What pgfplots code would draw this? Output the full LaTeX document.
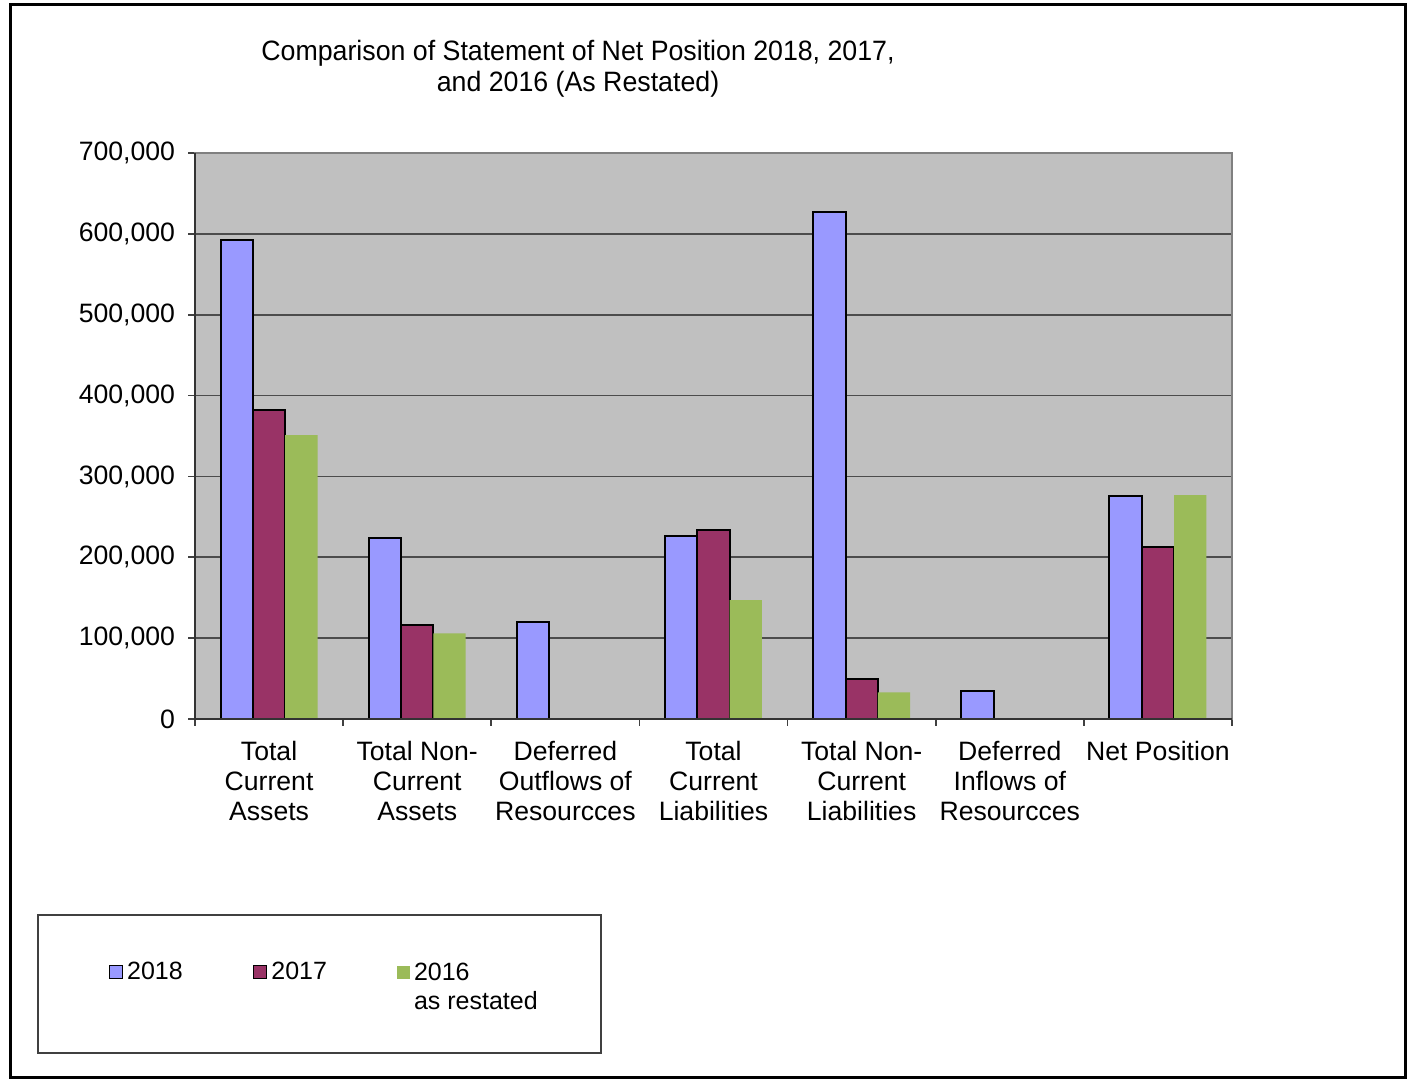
\documentclass[border=0pt]{standalone}
\usepackage{fontspec}
\setmainfont{Liberation Sans}
\newfontfamily\titlefont{Liberation Sans}[FakeStretch=0.955]
\usepackage{pgfplots}
\pgfplotsset{compat=1.18}
\definecolor{c18}{HTML}{9999FF}
\definecolor{c17}{HTML}{993366}
\definecolor{c16}{HTML}{9BBB59}
\definecolor{bg}{HTML}{C0C0C0}
\begin{document}
\begin{tikzpicture}
\path[use as bounding box] (0,0) rectangle (705.5pt,540pt);
\draw[line width=1.5pt] (5pt,1.5pt) rectangle (702.5pt,537.5pt);
\node[anchor=north, align=center, inner sep=0pt, font=\titlefont\fontsize{14}{15.5}\selectfont] at (289pt,520pt)
  {Comparison of Statement of Net Position 2018, 2017,\\and 2016 (As Restated)};
\draw[black!75, line width=0.75pt] (19pt,13.5pt) rectangle (300.5pt,82.5pt);
\begin{axis}[
  at={(97.5pt,180.5pt)}, anchor=south west,
  scale only axis, width=518.5pt, height=283pt,
  xmin=-0.5, xmax=6.5, ymin=0, ymax=700000,
  axis background/.style={fill=bg},
  axis line style={draw=black!50, line width=1.2pt},
  ybar=0pt, bar width=16.15pt,
  xtick={0,...,6},
  xticklabels={{Total\\Current\\Assets},{Total Non-\\Current\\Assets},{Deferred\\Outflows of\\Resourcces},{Total\\Current\\Liabilities},{Total Non-\\Current\\Liabilities},{Deferred\\Inflows of\\Resourcces},{Net Position}},
  minor xtick={-0.5,0.5,...,6.5},
  major x tick style={draw=none},
  minor tick length=3.5pt,
  major tick length=3.5pt,
  tick align=outside, tick pos=left,
  tick style={black!75, line width=0.8pt},
  ytick={0,100000,...,700000},
  scaled y ticks=false,
  /pgf/number format/assume math mode=true,
  yticklabel style={/pgf/number format/fixed, /pgf/number format/1000 sep={,}},
  yticklabel style={font=\fontsize{13.3}{15}\selectfont, xshift=-3pt},
  xticklabel style={align=center, font=\fontsize{13.3}{15}\selectfont, yshift=-4pt},
  ymajorgrids, major grid style={black!70, line width=0.9pt},
  legend style={at={(-0.0895,-0.411)}, anchor=north west, draw=none, fill=none,
    font=\fontsize{12.5}{14.5}\selectfont, legend columns=3,
    /tikz/every even column/.append style={column sep=33pt},
    legend cell align=left},
  legend image code/.code={\draw[#1, line width=0.8pt] (0pt,-3pt) rectangle (6.5pt,3.5pt);},
  after end axis/.code={
    \draw[black!80, line width=1.2pt] (axis description cs:0,1) -- (axis description cs:0,0) -- (axis description cs:1,0);
  },
]
\addplot[fill=c18, draw=black, line width=1pt] coordinates {(0,592000) (1,224000) (2,120000) (3,226000) (4,627000) (5,35000) (6,276000)};
\addplot[fill=c17, draw=black, line width=1pt] coordinates {(0,382000) (1,116000) (3,234000) (4,49000) (6,213000)};
\addplot[fill=c16, draw=none, legend image code/.code={\fill[c16] (0pt,-3pt) rectangle (6.5pt,3.5pt);}] coordinates {(0,351000) (1,106000) (3,147000) (4,33000) (6,277000)};
\addlegendentry{2018}
\addlegendentry{2017}
\addlegendentry{\raisebox{1pt}{\begin{tabular}[t]{@{}l@{}}2016\\as restated\end{tabular}}}
\end{axis}
\end{tikzpicture}
\end{document}
